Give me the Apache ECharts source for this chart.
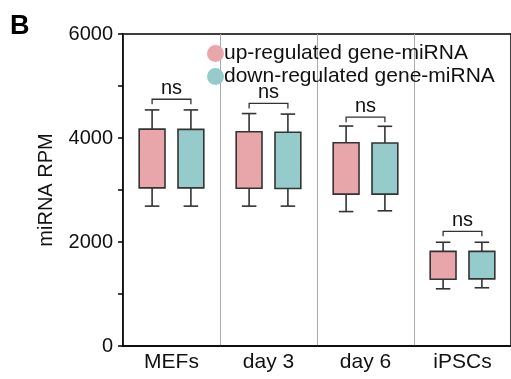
<!DOCTYPE html>
<html>
<head>
<meta charset="utf-8">
<script src="https://cdn.jsdelivr.net/npm/echarts@6/dist/echarts.min.js"></script>
<style>
    html, body { margin: 0; padding: 0; background: #fff; }
    #chart { width: 511px; height: 379px; }
</style>
</head>
<body>
<div id="chart"></div>
<script>
const stages = ['MEFs', 'day 3', 'day 6', 'iPSCs'];
// each row: [min, Q1, Q3, max]
const upRegulated = [
    [2690, 3040, 4170, 4540],
    [2690, 3035, 4120, 4470],
    [2585, 2920, 3910, 4230],
    [1100, 1285, 1820, 1995],
];
const downRegulated = [
    [2690, 3040, 4165, 4540],
    [2690, 3030, 4110, 4460],
    [2600, 2920, 3905, 4225],
    [1120, 1290, 1820, 1995],
];
const nsHeights = [4745, 4665, 4400, 2205];
const yLabels = ['0', '2000', '4000', '6000'];

const font = 'Liberation Sans, Arial, sans-serif';
const edge = '#333';

const renderBox = (shift) => (params, api) => {
    const band = api.size([1, 0])[0];
    const cx = api.coord([api.value(0), 0])[0] + band * shift;
    const lo = api.coord([0, api.value(1)])[1];
    const q1 = api.coord([0, api.value(2)])[1];
    const q3 = api.coord([0, api.value(3)])[1];
    const hi = api.coord([0, api.value(4)])[1];
    const half = band * 0.133;
    const cap = band * 0.075;
    const line = { stroke: edge, lineWidth: 1.6 };
    return {
        type: 'group',
        children: [
            { type: 'line', shape: { x1: cx, y1: hi, x2: cx, y2: q3 }, style: line },
            { type: 'line', shape: { x1: cx, y1: q1, x2: cx, y2: lo }, style: line },
            { type: 'line', shape: { x1: cx - cap, y1: hi, x2: cx + cap, y2: hi }, style: line },
            { type: 'line', shape: { x1: cx - cap, y1: lo, x2: cx + cap, y2: lo }, style: line },
            {
                type: 'rect',
                shape: { x: cx - half, y: q3, width: half * 2, height: q1 - q3 },
                style: { fill: api.visual('color'), stroke: edge, lineWidth: 1.6 },
            },
        ],
    };
};

const renderBracket = (params, api) => {
    const band = api.size([1, 0])[0];
    const p = api.coord([api.value(0), api.value(1)]);
    const dx = band * 0.2;
    return {
        type: 'group',
        children: [
            {
                type: 'polyline',
                shape: { points: [[p[0] - dx, p[1] + 5], [p[0] - dx, p[1]], [p[0] + dx, p[1]], [p[0] + dx, p[1] + 5]] },
                style: { stroke: edge, lineWidth: 1.3, fill: null },
            },
            {
                type: 'text',
                x: p[0],
                y: p[1] - 1,
                style: { text: 'ns', font: '20px ' + font, fill: '#111', align: 'center', verticalAlign: 'bottom' },
            },
        ],
    };
};

const chart = echarts.init(document.getElementById('chart'));

chart.setOption({
    animation: false,
    textStyle: { fontFamily: font },
    grid: {
        left: 123,
        right: -1,
        top: 34,
        bottom: 33,
        show: true,
        borderColor: '#000',
        borderWidth: 1.5,
    },
    legend: {
        data: ['up-regulated gene-miRNA', 'down-regulated gene-miRNA'],
        orient: 'vertical',
        left: 202,
        top: 37,
        icon: 'circle',
        itemWidth: 17,
        itemHeight: 17,
        itemGap: 0,
        textStyle: { fontSize: 21, color: '#111', lineHeight: 23, padding: [0, 0, 0, -5] },
    },
    xAxis: {
        type: 'category',
        data: stages,
        axisLine: { lineStyle: { color: '#000', width: 1.5 } },
        axisTick: { show: false },
        axisLabel: { fontSize: 21, color: '#111', margin: 6 },
        splitLine: { show: true, lineStyle: { color: '#aaa', width: 1 } },
    },
    yAxis: {
        type: 'value',
        min: 0,
        max: 6000,
        interval: 1000,
        name: 'miRNA RPM',
        nameLocation: 'middle',
        nameGap: 67,
        nameTextStyle: { fontSize: 20, color: '#111' },
        axisLine: { show: true, lineStyle: { color: '#000', width: 1.5 } },
        axisTick: { show: true, length: 5, lineStyle: { color: '#000', width: 1.5 } },
        axisLabel: {
            fontSize: 20,
            color: '#111',
            margin: 10,
            formatter: (v) => (yLabels.includes(String(v)) ? String(v) : ''),
        },
        splitLine: { show: false },
    },
    graphic: [
        {
            type: 'text',
            left: 10,
            top: 13,
            style: { text: 'B', font: 'bold 27px ' + font, fill: '#000' },
        },
    ],
    series: [
        {
            name: 'up-regulated gene-miRNA',
            type: 'custom',
            itemStyle: { color: '#E8A6AA' },
            encode: { x: 0, y: [1, 2, 3, 4] },
            data: upRegulated.map((r, i) => [i, ...r]),
            renderItem: renderBox(-0.2),
        },
        {
            name: 'down-regulated gene-miRNA',
            type: 'custom',
            itemStyle: { color: '#96CBCC' },
            encode: { x: 0, y: [1, 2, 3, 4] },
            data: downRegulated.map((r, i) => [i, ...r]),
            renderItem: renderBox(0.2),
        },
        {
            name: 'ns',
            type: 'custom',
            encode: { x: 0, y: 1 },
            data: nsHeights.map((h, i) => [i, h]),
            renderItem: renderBracket,
            z: 3,
        },
    ],
});
</script>
</body>
</html>
